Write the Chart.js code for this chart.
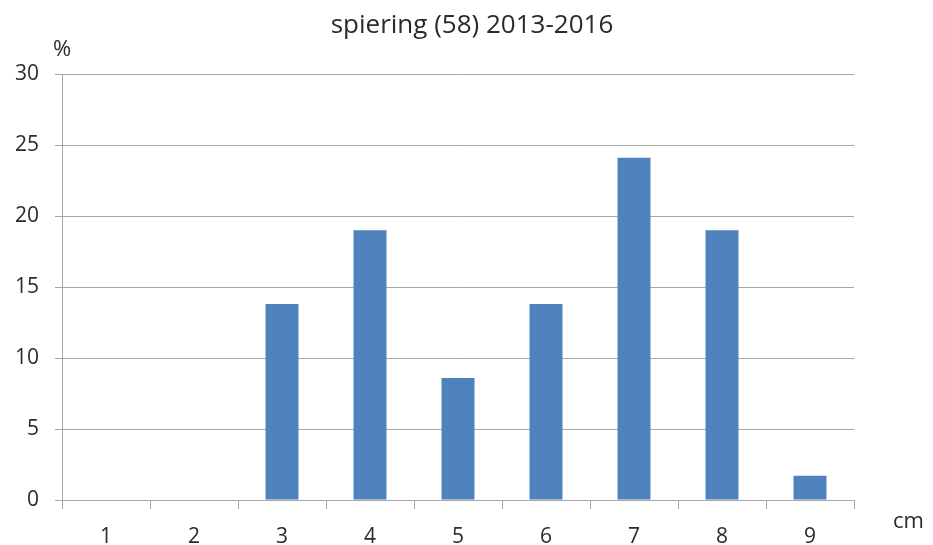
<!DOCTYPE html>
<html>
<head>
<meta charset="utf-8">
<script src="https://cdn.jsdelivr.net/npm/chart.js@4/dist/chart.umd.min.js"></script>
<style>
html,body{margin:0;padding:0;background:#fff;}
#wrap{width:933px;height:545px;position:relative;}
</style>
</head>
<body>
<div id="wrap"><canvas id="c" width="933" height="545"></canvas></div>
<script>
const categories = ["1","2","3","4","5","6","7","8","9"];
const percentages = [0, 0, 13.8, 19.0, 8.6, 13.8, 24.1, 19.0, 1.7];
const yTicks = [0, 5, 10, 15, 20, 25, 30];
const titleText = "spiering (58) 2013-2016";
const yUnit = "%";
const xUnit = "cm";

const FONT = "'Open Sans', sans-serif";
const TXT = "#2b2b2b";
const GRID = "#a6a6a6";

const extras = {
  id: 'extras',
  afterDraw(chart) {
    const ctx = chart.ctx;
    const a = chart.chartArea;
    ctx.save();
    ctx.fillStyle = TXT;
    ctx.textBaseline = 'middle';
    ctx.font = "26px " + FONT;
    ctx.textAlign = 'center';
    ctx.fillText(titleText, (a.left + a.right) / 2 + 14, 26);
    ctx.font = "22px " + FONT;
    ctx.fillText(yUnit, a.left, 50);
    ctx.textAlign = 'left';
    ctx.fillText(xUnit, 893, 522);
    ctx.restore();
  }
};

new Chart(document.getElementById('c'), {
  type: 'bar',
  data: {
    labels: categories,
    datasets: [{
      data: percentages,
      backgroundColor: '#4f81bd',
      borderWidth: 0,
      barPercentage: 0.375,
      categoryPercentage: 1.0
    }]
  },
  options: {
    responsive: false,
    animation: false,
    devicePixelRatio: 1,
    layout: { padding: { left: 0, right: 79, top: 74, bottom: 0 } },
    plugins: { legend: { display: false }, title: { display: false }, tooltip: { enabled: false } },
    scales: {
      x: {
        offset: true,
        grid: { offset: true, drawOnChartArea: false, drawTicks: true, tickLength: 9, color: GRID, lineWidth: 1 },
        border: { display: true, color: GRID, width: 1 },
        ticks: { font: { family: FONT, size: 21 }, color: TXT, padding: 15 },
        afterFit(s) { s.height = 45; }
      },
      y: {
        min: 0, max: 30,
        afterBuildTicks(s) { s.ticks = yTicks.map(v => ({ value: v })); },
        grid: { color: GRID, lineWidth: 1, tickLength: 7 },
        border: { display: true, color: GRID, width: 1 },
        ticks: { font: { family: FONT, size: 21 }, color: TXT, padding: 16 },
        afterFit(s) { s.width = 62; }
      }
    }
  },
  plugins: [extras]
});
</script>
</body>
</html>
